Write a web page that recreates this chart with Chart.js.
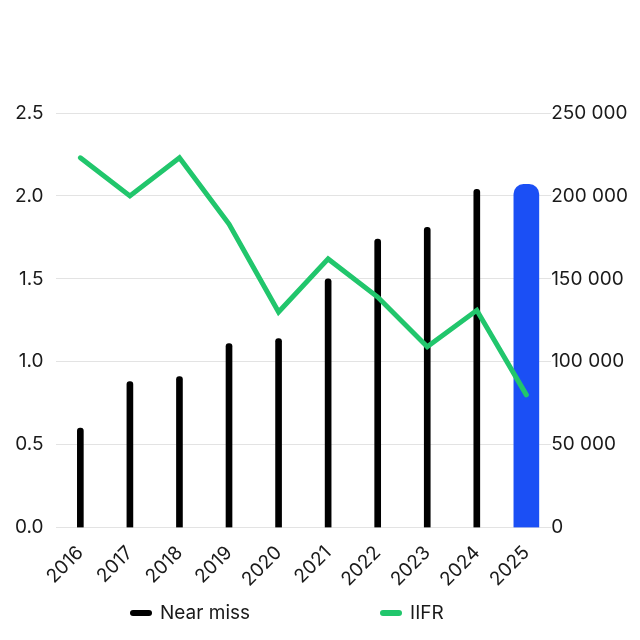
<!DOCTYPE html>
<html lang="en">
  <head>
    <meta charset="utf-8" />
    <title>Near miss and IIFR</title>
    <style>
      html, body { margin: 0; padding: 0; background: #ffffff; }
      #wrap { position: relative; width: 640px; height: 640px; }
      #legend {
        position: absolute;
        left: 130px;
        top: 601px;
        height: 24px;
        display: flex;
        gap: 130px;
        font-family: Inter, "Noto Sans", sans-serif;
        font-size: 19px;
        line-height: 24px;
        color: #1a1a1a;
      }
      #legend .item { display: flex; align-items: center; white-space: nowrap; }
      #legend .mark { width: 22px; height: 6px; border-radius: 3px; margin-right: 8px; }
    </style>
  </head>
  <body>
    <div id="wrap">
      <canvas id="myChart" width="640" height="640"></canvas>
      <div id="legend"></div>
    </div>
    <script src="https://cdn.jsdelivr.net/npm/chart.js@4.4.1/dist/chart.umd.min.js"></script>
    <script>
      var years = ["2016", "2017", "2018", "2019", "2020", "2021", "2022", "2023", "2024", "2025"];
      var nearMiss = [60000, 88000, 91000, 111000, 114000, 150000, 174000, 181000, 204000, 207000];
      var iifr = [2.23, 2.0, 2.23, 1.83, 1.3, 1.62, 1.39, 1.09, 1.31, 0.8];
      var leftTicks = { min: 0, max: 2.5, step: 0.5 };
      var rightTicks = { min: 0, max: 250000, step: 50000 };

      var last = years.length - 1;
      var black = "#000000";
      var blue = "#1b4ff5";
      var green = "#21c66c";

      // the last year gets its own wide blue bar, the rest are thin black bars
      var pastBars = nearMiss.map(function (v, i) { return i === last ? null : v; });
      var currentBar = nearMiss.map(function (v, i) { return i === last ? v : null; });

      function spaced(v) {
        return String(v).replace(/\B(?=(\d{3})+(?!\d))/g, " ");
      }

      // html legend so the two entries can sit far apart like the original
      var htmlLegend = {
        id: "htmlLegend",
        afterUpdate: function (chart) {
          var box = document.getElementById("legend");
          box.innerHTML = "";
          var items = chart.options.plugins.legend.labels.generateLabels(chart);
          items
            .filter(function (it) { return it.text !== ""; })
            .sort(function (a, b) { return a.datasetIndex - b.datasetIndex; })
            .forEach(function (it) {
              var item = document.createElement("div");
              item.className = "item";
              var mark = document.createElement("span");
              mark.className = "mark";
              mark.style.background = it.fillStyle;
              var txt = document.createElement("span");
              txt.textContent = it.text;
              item.appendChild(mark);
              item.appendChild(txt);
              box.appendChild(item);
            });
        },
      };

      Chart.defaults.font.family = "Inter, 'Noto Sans', sans-serif";
      Chart.defaults.font.size = 19;
      Chart.defaults.color = "#1a1a1a";

      function createChart() {
        var ctx = document.getElementById("myChart").getContext("2d");
        var chart = new Chart(ctx, {
          data: {
            labels: years,
            datasets: [
              {
                type: "bar",
                label: "Near miss",
                data: pastBars,
                yAxisID: "y1",
                backgroundColor: black,
                barThickness: 6,
                borderRadius: { topLeft: 3, topRight: 3 },
                borderSkipped: "bottom",
                grouped: false,
                order: 1,
              },
              {
                type: "bar",
                label: "",
                data: currentBar,
                yAxisID: "y1",
                backgroundColor: blue,
                barThickness: 25,
                borderRadius: { topLeft: 10, topRight: 10 },
                borderSkipped: "bottom",
                grouped: false,
                order: 1,
              },
              {
                type: "line",
                label: "IIFR",
                data: iifr,
                yAxisID: "y",
                borderColor: green,
                backgroundColor: green,
                borderWidth: 5,
                borderCapStyle: "round",
                borderJoinStyle: "miter",
                pointRadius: 0,
                tension: 0,
                order: 0,
              },
            ],
          },
          options: {
            responsive: false,
            animation: false,
            layout: { padding: { top: 113, left: 3, right: 12, bottom: 43 } },
            scales: {
              x: {
                offset: true,
                grid: { display: false },
                border: { display: false },
                ticks: { minRotation: 45, maxRotation: 45, padding: 6 },
              },
              y: {
                position: "left",
                min: leftTicks.min,
                max: leftTicks.max,
                grid: { color: "#e3e3e3", lineWidth: 1, drawTicks: false },
                border: { display: false },
                ticks: {
                  stepSize: leftTicks.step,
                  padding: 12,
                  callback: function (v) { return Number(v).toFixed(1); },
                },
              },
              y1: {
                position: "right",
                min: rightTicks.min,
                max: rightTicks.max,
                grid: { display: false, drawTicks: false },
                border: { display: false },
                ticks: {
                  stepSize: rightTicks.step,
                  padding: 0,
                  callback: function (v) { return spaced(v); },
                },
              },
            },
            plugins: {
              tooltip: { enabled: false },
              legend: { display: false },
            },
          },
          plugins: [htmlLegend],
        });
        window.myChart = chart;
      }

      createChart();
    </script>
  </body>
</html>
